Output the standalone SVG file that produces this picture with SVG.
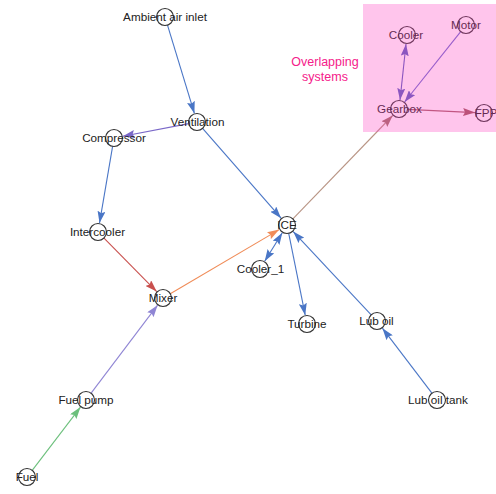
<svg xmlns="http://www.w3.org/2000/svg" width="496" height="494" viewBox="0 0 496 494">
<style>
.e{fill:none;stroke-width:1.1}
.n circle{fill:none;stroke:#333;stroke-width:1.1}
.n text{font-family:"Liberation Sans",Arial,sans-serif;font-size:11.7px;fill:#222;text-anchor:middle}
.lbl{font-family:"Liberation Sans",Arial,sans-serif;font-size:12.5px;fill:#f5208a;text-anchor:middle}
</style>
<defs>
<marker id="mB" viewBox="0 0 12 8" markerWidth="12" markerHeight="8" refX="12" refY="4" orient="auto-start-reverse" markerUnits="userSpaceOnUse"><path d="M0,0 L12,4 L0,8 L2,4 z" fill="#4a76c6"/></marker>
<marker id="mP" viewBox="0 0 12 8" markerWidth="12" markerHeight="8" refX="12" refY="4" orient="auto-start-reverse" markerUnits="userSpaceOnUse"><path d="M0,0 L12,4 L0,8 L2,4 z" fill="#7a68c8"/></marker>
<marker id="mV" viewBox="0 0 12 8" markerWidth="12" markerHeight="8" refX="12" refY="4" orient="auto-start-reverse" markerUnits="userSpaceOnUse"><path d="M0,0 L12,4 L0,8 L2,4 z" fill="#5a60c0"/></marker>
<marker id="mR" viewBox="0 0 12 8" markerWidth="12" markerHeight="8" refX="12" refY="4" orient="auto-start-reverse" markerUnits="userSpaceOnUse"><path d="M0,0 L12,4 L0,8 L2,4 z" fill="#c9504e"/></marker>
<marker id="mM" viewBox="0 0 12 8" markerWidth="12" markerHeight="8" refX="12" refY="4" orient="auto-start-reverse" markerUnits="userSpaceOnUse"><path d="M0,0 L12,4 L0,8 L2,4 z" fill="#a05a5c"/></marker>
<marker id="mO" viewBox="0 0 12 8" markerWidth="12" markerHeight="8" refX="12" refY="4" orient="auto-start-reverse" markerUnits="userSpaceOnUse"><path d="M0,0 L12,4 L0,8 L2,4 z" fill="#f08c58"/></marker>
<marker id="mG" viewBox="0 0 12 8" markerWidth="12" markerHeight="8" refX="12" refY="4" orient="auto-start-reverse" markerUnits="userSpaceOnUse"><path d="M0,0 L12,4 L0,8 L2,4 z" fill="#6cc07c"/></marker>
<marker id="mL" viewBox="0 0 12 8" markerWidth="12" markerHeight="8" refX="12" refY="4" orient="auto-start-reverse" markerUnits="userSpaceOnUse"><path d="M0,0 L12,4 L0,8 L2,4 z" fill="#8f85d4"/></marker>
<marker id="mW" viewBox="0 0 12 8" markerWidth="12" markerHeight="8" refX="12" refY="4" orient="auto-start-reverse" markerUnits="userSpaceOnUse"><path d="M0,0 L12,4 L0,8 L2,4 z" fill="#a07068"/></marker>
</defs>
<g id="connectors">
<line class="e" x1="167.5" y1="25.1" x2="194.4" y2="113.4" stroke="#4a76c6" marker-end="url(#mB)"/>
<line class="e" x1="188.7" y1="123.6" x2="122.8" y2="136.3" stroke="#7a68c8" marker-end="url(#mP)"/>
<line class="e" x1="112.6" y1="146.4" x2="99.5" y2="223.1" stroke="#4a76c6" marker-end="url(#mB)"/>
<line class="e" x1="104" y1="238.1" x2="156.7" y2="291.6" stroke="#c9504e" marker-end="url(#mR)"/>
<line class="e" x1="170.3" y1="293.7" x2="279.2" y2="229.6" stroke="#f08c58" marker-end="url(#mO)"/>
<line class="e" x1="202.6" y1="128.4" x2="281.1" y2="218.2" stroke="#4a76c6" marker-end="url(#mB)"/>
<line class="e" x1="282.3" y1="232.7" x2="264.7" y2="261.3" stroke="#4a76c6" marker-start="url(#mB)" marker-end="url(#mB)"/>
<line class="e" x1="288.7" y1="233.3" x2="305.2" y2="315.2" stroke="#4a76c6" marker-end="url(#mB)"/>
<line class="e" x1="371.2" y1="314.8" x2="293.2" y2="231.6" stroke="#4a76c6" marker-end="url(#mB)"/>
<line class="e" x1="431.9" y1="393.2" x2="382.4" y2="328.2" stroke="#4a76c6" marker-end="url(#mB)"/>
<line class="e" x1="32.2" y1="470.3" x2="80.5" y2="407.1" stroke="#6cc07c" marker-end="url(#mG)"/>
<line class="e" x1="91.1" y1="393.2" x2="157.6" y2="305.2" stroke="#8f85d4" marker-end="url(#mL)"/>
<line class="e" x1="292.9" y1="218.9" x2="392.7" y2="115.5" stroke="#b89484" marker-end="url(#mW)"/>
<line class="e" x1="406" y1="44" x2="400" y2="100.1" stroke="#5a60c0" marker-start="url(#mV)" marker-end="url(#mV)"/>
<line class="e" x1="460.7" y1="31.6" x2="404.6" y2="102" stroke="#6a6ad0" marker-end="url(#mV)"/>
<line class="e" x1="407.5" y1="109.4" x2="475" y2="112.6" stroke="#a86068" marker-end="url(#mM)"/>
</g>
<g id="n-ambient" class="n"><circle cx="165" cy="17" r="8.5"/><text x="165" y="21">Ambient air inlet</text></g>
<g id="n-ventilation" class="n"><circle cx="197" cy="122" r="8.5"/><text x="197.5" y="126">Ventilation</text></g>
<g id="n-compressor" class="n"><circle cx="114" cy="138" r="8.5"/><text x="114" y="142">Compressor</text></g>
<g id="n-intercooler" class="n"><circle cx="98" cy="232" r="8.5"/><text x="97.5" y="236">Intercooler</text></g>
<g id="n-mixer" class="n"><circle cx="163" cy="298" r="8.5"/><text x="163" y="302">Mixer</text></g>
<g id="n-ice" class="n"><circle cx="287" cy="225" r="8.5"/><text x="287" y="229">ICE</text></g>
<g id="n-cooler1" class="n"><circle cx="260" cy="269" r="8.5"/><text x="260.5" y="273">Cooler_1</text></g>
<g id="n-turbine" class="n"><circle cx="307" cy="324" r="8.5"/><text x="307" y="328">Turbine</text></g>
<g id="n-luboil" class="n"><circle cx="377" cy="321" r="8.5"/><text x="376.5" y="325">Lub oil</text></g>
<g id="n-luboiltank" class="n"><circle cx="437" cy="400" r="8.5"/><text x="438" y="404">Lub oil tank</text></g>
<g id="n-fuelpump" class="n"><circle cx="86" cy="400" r="8.5"/><text x="86" y="404">Fuel pump</text></g>
<g id="n-fuel" class="n"><circle cx="27" cy="477" r="8.5"/><text x="27" y="481">Fuel</text></g>
<g id="n-cooler" class="n"><circle cx="407" cy="35" r="8.5"/><text x="406" y="39">Cooler</text></g>
<g id="n-motor" class="n"><circle cx="466" cy="25" r="8.5"/><text x="466" y="29">Motor</text></g>
<g id="n-gearbox" class="n"><circle cx="399" cy="109" r="8.5"/><text x="399.5" y="113">Gearbox</text></g>
<g id="n-fpp" class="n"><circle cx="484" cy="113" r="8.5"/><text x="486" y="117">FPP</text></g>
<g id="overlap">
<rect x="363" y="4" width="133" height="128" fill="#ff40c0" fill-opacity="0.3"/>
<text class="lbl" x="325" y="66">Overlapping</text>
<text class="lbl" x="325" y="81">systems</text>
</g>
</svg>
